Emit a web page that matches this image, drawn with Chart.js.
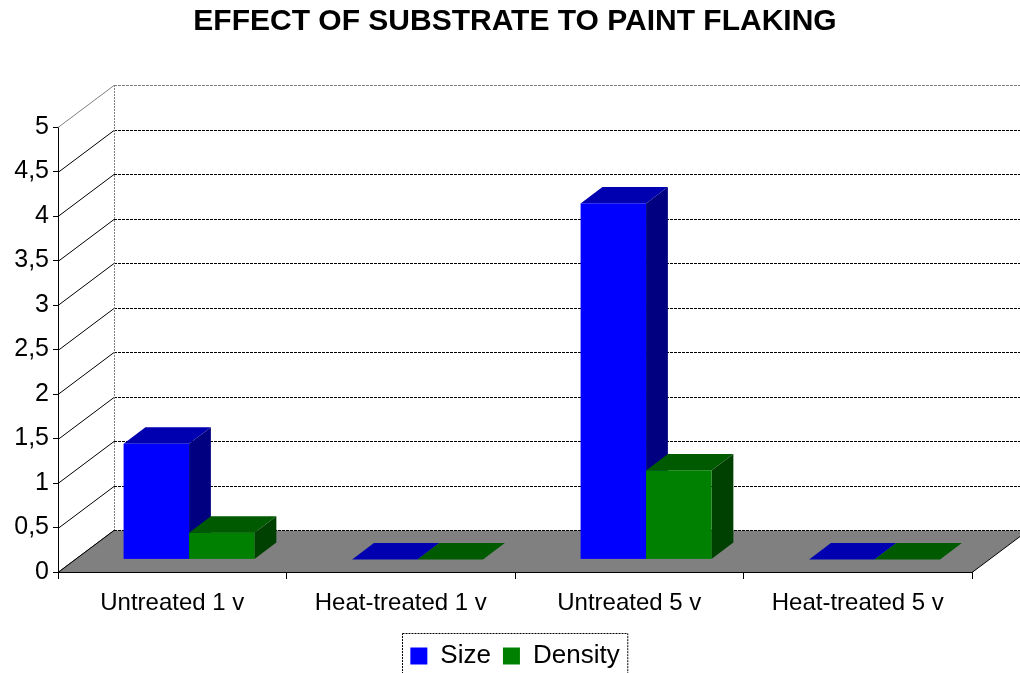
<!DOCTYPE html>
<html>
<head>
<meta charset="utf-8">
<script src="https://cdn.jsdelivr.net/npm/chart.js@4.4.0/dist/chart.umd.min.js"></script>
<style>
  html, body { margin: 0; padding: 0; background: #fff; }
</style>
</head>
<body>
<canvas id="chart" width="1020" height="673"></canvas>
<script>
// Data
const categories = ['Untreated 1 v', 'Heat-treated 1 v', 'Untreated 5 v', 'Heat-treated 5 v'];
const sizeValues = [1.3, 0, 4.0, 0];
const densityValues = [0.3, 0, 1.0, 0];
const yTickValues = [0, 0.5, 1, 1.5, 2, 2.5, 3, 3.5, 4, 4.5, 5];

// Colours for the three faces of each box
const faceColors = [
  { front: '#0000ff', top: '#0000b0', side: '#000080' },
  { front: '#008000', top: '#005a00', side: '#004000' }
];

// Depth of the scene (back wall offset) and where the bars sit in it
const WALL_DX = 56, WALL_DY = -42;
const BAR_FRONT = 0.3, BAR_BACK = 0.69;

Chart.defaults.font.family = "'Liberation Sans', Arial, sans-serif";
Chart.defaults.color = '#000';

function line(ctx, x1, y1, x2, y2, color, dash) {
  ctx.save();
  ctx.strokeStyle = color;
  ctx.lineWidth = 1;
  ctx.setLineDash(dash || []);
  ctx.beginPath();
  ctx.moveTo(x1, y1);
  ctx.lineTo(x2, y2);
  ctx.stroke();
  ctx.restore();
}

function poly(ctx, pts, fill) {
  ctx.beginPath();
  ctx.moveTo(pts[0][0], pts[0][1]);
  for (let i = 1; i < pts.length; i++) ctx.lineTo(pts[i][0], pts[i][1]);
  ctx.closePath();
  ctx.fillStyle = fill;
  ctx.fill();
}

// Draws walls, floor and the 3D boxes instead of the flat bars
const scene3d = {
  id: 'scene3d',
  beforeDatasetsDraw(chart) {
    const { ctx, chartArea: a, scales: { x, y } } = chart;
    const dotted = [3, 1];

    // side wall diagonals and back wall gridlines
    yTickValues.forEach(v => {
      const py = Math.round(y.getPixelForValue(v)) + 0.5;
      const col = v === 5 ? '#808080' : '#000';
      line(ctx, a.left, py, a.left + WALL_DX, py + WALL_DY, col);
      line(ctx, a.left + WALL_DX, py + WALL_DY, a.right + WALL_DX, py + WALL_DY, col, dotted);
    });
    line(ctx, a.left + WALL_DX + 0.5, a.top + WALL_DY, a.left + WALL_DX + 0.5, a.bottom + WALL_DY, '#808080', [2, 1]);

    // floor
    const fb = Math.round(a.bottom) + 0.5;
    poly(ctx, [[a.left, fb], [a.right, fb], [a.right + WALL_DX, fb + WALL_DY], [a.left + WALL_DX, fb + WALL_DY]], '#808080');
    line(ctx, a.left + WALL_DX, fb + WALL_DY, a.right + WALL_DX, fb + WALL_DY, '#000', dotted);
    line(ctx, a.left, fb, a.right, fb, '#000');
    line(ctx, a.right, fb, a.right + WALL_DX, fb + WALL_DY, '#000');
    line(ctx, a.left, fb, a.left + WALL_DX, fb + WALL_DY, '#000');

    // boxes
    const fx = WALL_DX * BAR_FRONT, fy = WALL_DY * BAR_FRONT;
    const bx = WALL_DX * BAR_BACK, by = WALL_DY * BAR_BACK;
    const n = chart.data.labels.length;
    for (let j = 0; j < n; j++) {
      chart.data.datasets.forEach((ds, i) => {
        const el = chart.getDatasetMeta(i).data[j];
        const c = faceColors[i];
        const x0 = el.x - el.width / 2, x1 = el.x + el.width / 2;
        const yt = el.y, yb = el.base;
        // top
        poly(ctx, [[x0 + fx, yt + fy], [x1 + fx, yt + fy], [x1 + bx, yt + by], [x0 + bx, yt + by]], c.top);
        if (yb - yt > 0.5) {
          // side
          poly(ctx, [[x1 + fx, yt + fy], [x1 + bx, yt + by], [x1 + bx, yb + by], [x1 + fx, yb + fy]], c.side);
          // front
          ctx.fillStyle = c.front;
          ctx.fillRect(x0 + fx, yt + fy, x1 - x0, yb - yt);
        }
      });
    }
    return false;
  },
  afterDraw(chart) {
    // dashed frame round the legend
    const lg = chart.legend;
    if (!lg || !lg.legendHitBoxes.length) return;
    const boxes = lg.legendHitBoxes;
    const l = Math.min(...boxes.map(b => b.left)) - 8;
    const r = Math.max(...boxes.map(b => b.left + b.width)) + 8;
    const ctx = chart.ctx;
    ctx.save();
    ctx.strokeStyle = '#000';
    ctx.setLineDash([2, 1]);
    ctx.strokeRect(Math.round(l) + 0.5, Math.round(lg.top) + 2.5, r - l, lg.height + 20);
    ctx.restore();
  }
};

new Chart(document.getElementById('chart'), {
  type: 'bar',
  data: {
    labels: categories,
    datasets: [
      { label: 'Size', data: sizeValues, backgroundColor: faceColors[0].front, borderWidth: 0 },
      { label: 'Density', data: densityValues, backgroundColor: faceColors[1].front, borderWidth: 0 }
    ]
  },
  options: {
    responsive: false,
    animation: false,
    events: [],
    layout: { padding: { left: 10, right: 0, top: 0, bottom: -6 } },
    datasets: { bar: { categoryPercentage: 0.573, barPercentage: 1 } },
    scales: {
      x: {
        afterFit(s) { s.height = 59; },
        grid: { drawOnChartArea: false, tickLength: 7, color: '#000' },
        border: { color: '#000' },
        ticks: { font: { size: 24 }, padding: 10, color: '#000' }
      },
      y: {
        min: 0,
        max: 5,
        afterFit(s) { s.width = 48; },
        afterBuildTicks(s) { s.ticks = yTickValues.map(v => ({ value: v })); },
        grid: { drawOnChartArea: false, tickLength: 5, color: '#000' },
        border: { color: '#000' },
        ticks: {
          font: { size: 25 },
          padding: 4,
          color: '#000',
          callback: v => String(v).replace('.', ',')
        }
      },
      // empty axis that only reserves the room on the right where the depth goes
      yRight: {
        position: 'right',
        afterFit(s) { s.width = 48; },
        grid: { display: false },
        border: { display: false },
        ticks: { display: false }
      }
    },
    plugins: {
      title: {
        display: true,
        text: 'EFFECT OF SUBSTRATE TO PAINT FLAKING',
        font: { size: 30, weight: 'bold' },
        color: '#000',
        padding: { top: 4, bottom: 87 }
      },
      legend: {
        position: 'bottom',
        labels: { boxWidth: 17, boxHeight: 17, font: { size: 26 }, padding: 12, color: '#000' }
      },
      tooltip: { enabled: false }
    }
  },
  plugins: [scene3d]
});
</script>
</body>
</html>
